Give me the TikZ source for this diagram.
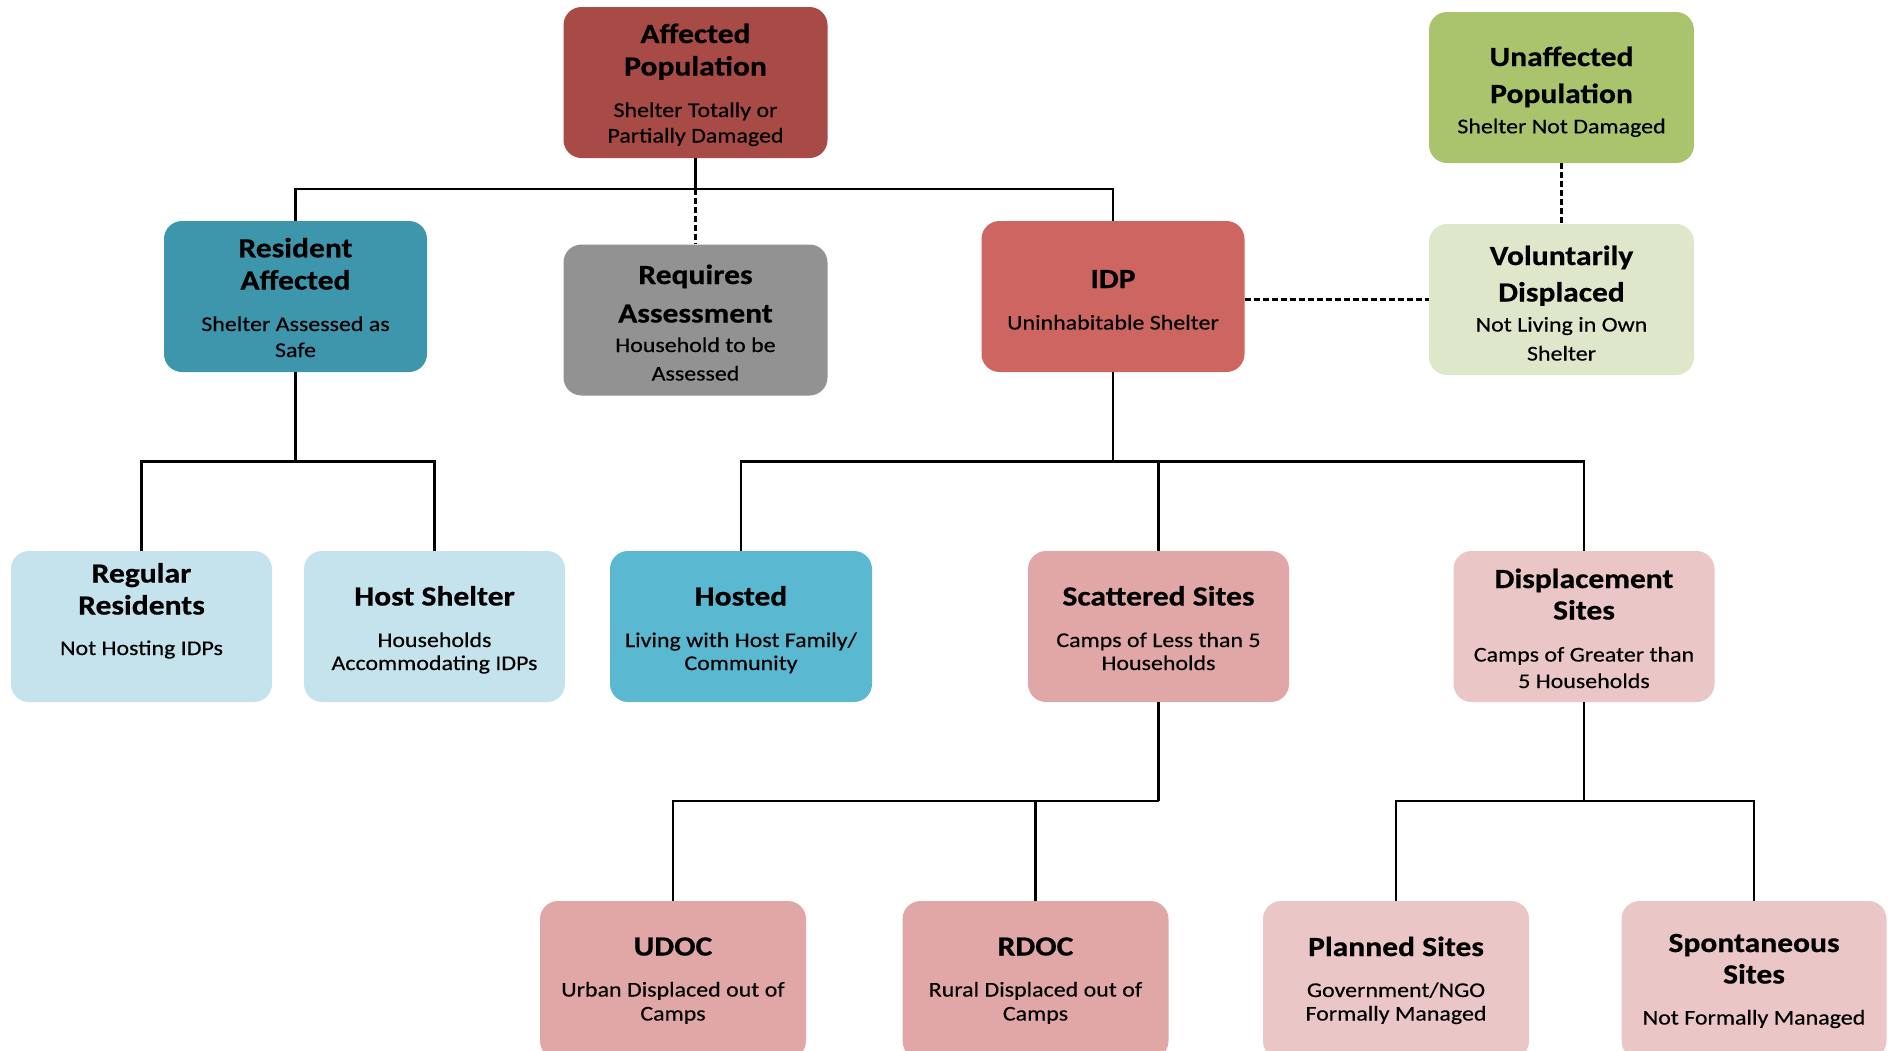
\documentclass[tikz,border=0pt]{standalone}
\usepackage{fontspec}
\setmainfont{Carlito}[FakeStretch=1.14, UprightFeatures={FakeBold=0.35}, BoldFeatures={FakeBold=0.6}]
\definecolor{cAff}{HTML}{A84A45}
\definecolor{cUnaff}{HTML}{A9C46C}
\definecolor{cRes}{HTML}{3D96AC}
\definecolor{cReq}{HTML}{929292}
\definecolor{cIdp}{HTML}{CD6661}
\definecolor{cVol}{HTML}{DEE7C9}
\definecolor{cLblue}{HTML}{C4E3EC}
\definecolor{cHosted}{HTML}{5BB8D1}
\definecolor{cPinkA}{HTML}{E1A7A6}
\definecolor{cPinkB}{HTML}{EBC6C6}
\begin{document}
\begin{tikzpicture}[x=1pt,y=-1pt,
  box/.style={rectangle, rounded corners=18pt, minimum width=263pt, minimum height=151pt, inner sep=0pt, draw=none},
  ttl/.style={anchor=base, inner sep=0pt, font=\bfseries\fontsize{27.7}{30}\selectfont},
  sub/.style={anchor=base, inner sep=0pt, font=\fontsize{21}{24}\selectfont},
  conn/.style={line width=2.3pt, black},
  dashline/.style={line width=2.1pt, black, dash pattern=on 6pt off 3pt}]
\path[use as bounding box] (0,0) rectangle (1888,1050);
\clip (0,0) rectangle (1888,1050);

% boxes
\node[box, fill=cAff, minimum width=264pt] (aff) at (695.5,82.5) {};
\node[box, fill=cUnaff, minimum width=265pt] (unaff) at (1561.5,87.5) {};
\node[box, fill=cRes] (res) at (295.5,296.5) {};
\node[box, fill=cReq, minimum width=264pt] (req) at (695.5,320) {};
\node[box, fill=cIdp] (idp) at (1113,296.5) {};
\node[box, fill=cVol, minimum width=265pt] (vol) at (1561.5,299.5) {};
\node[box, fill=cLblue, minimum width=261pt] (reg) at (141.5,626.5) {};
\node[box, fill=cLblue, minimum width=261pt] (host) at (434.5,626.5) {};
\node[box, fill=cHosted, minimum width=262pt] (hosted) at (741,626.5) {};
\node[box, fill=cPinkA, minimum width=261pt] (scat) at (1158.5,626.5) {};
\node[box, fill=cPinkB, minimum width=261pt] (disp) at (1584,626.5) {};
\node[box, fill=cPinkA, minimum width=266pt, minimum height=158pt] (udoc) at (673,980) {};
\node[box, fill=cPinkA, minimum width=266pt, minimum height=158pt] (rdoc) at (1035.5,980) {};
\node[box, fill=cPinkB, minimum width=266pt, minimum height=158pt] (plan) at (1396,980) {};
\node[box, fill=cPinkB, minimum width=265pt, minimum height=158pt] (spont) at (1754,980) {};

% junctions
\coordinate (j1) at (695.5,189);
\coordinate (j2) at (295.5,461.5);
\coordinate (j3) at (1113,461.5);
\coordinate (j4) at (1158.5,801);
\coordinate (j5) at (1584,801);

% connectors
\draw[conn] (aff.south) -- (j1);
\draw[conn] (res.north) |- (j1) -| (idp.north);
\draw[dashline] (j1) -- (req.north);
\draw[dashline] (unaff.south) -- (vol.north);
\draw[dashline] (vol.west -| idp.east) -- (vol.west);
\draw[conn] (res.south) -- (j2);
\draw[conn] (reg.north) |- (j2) -| (host.north);
\draw[conn] (idp.south) -- (j3);
\draw[conn] (hosted.north) |- (j3) -| (disp.north);
\draw[conn] (scat.north) -- (scat.north |- j3);
\draw[conn] (scat.south) -- (j4);
\draw[conn] (udoc.north) |- (j4);
\draw[conn] (rdoc.north) -- (rdoc.north |- j4);
\draw[conn] (disp.south) -- (j5);
\draw[conn] (plan.north) |- (j5) -| (spont.north);

% texts
\node[ttl] (aff-t1) at (695.5,43) {Affected};
\node[ttl] (aff-t2) at (695.5,75.5) {Population};
\node[sub] (aff-s1) at (695.5,117) {Shelter Totally or};
\node[sub] (aff-s2) at (695.5,142.5) {Partially Damaged};

\node[ttl] (unaff-t1) at (1561.5,66) {Unaffected};
\node[ttl] (unaff-t2) at (1561.5,103) {Population};
\node[sub] (unaff-s1) at (1561.5,133.3) {Shelter Not Damaged};

\node[ttl] (res-t1) at (295.5,257.3) {Resident};
\node[ttl] (res-t2) at (295.5,289.5) {Affected};
\node[sub] (res-s1) at (295.5,331) {Shelter Assessed as};
\node[sub] (res-s2) at (295.5,357) {Safe};

\node[ttl] (req-t1) at (695.5,284) {Requires};
\node[ttl] (req-t2) at (695.5,322.5) {Assessment};
\node[sub] (req-s1) at (695.5,352) {Household to be};
\node[sub] (req-s2) at (695.5,380.5) {Assessed};

\node[ttl] (idp-t1) at (1113,288) {IDP};
\node[sub] (idp-s1) at (1113,329.5) {Uninhabitable Shelter};

\node[ttl] (vol-t1) at (1561.5,265) {Voluntarily};
\node[ttl] (vol-t2) at (1561.5,301.5) {Displaced};
\node[sub] (vol-s1) at (1561.5,331.5) {Not Living in Own};
\node[sub] (vol-s2) at (1561.5,360.5) {Shelter};

\node[ttl] (reg-t1) at (141.5,582.5) {Regular};
\node[ttl] (reg-t2) at (141.5,614.5) {Residents};
\node[sub] (reg-s1) at (141.5,655) {Not Hosting IDPs};

\node[ttl] (host-t1) at (434.5,605.5) {Host Shelter};
\node[sub] (host-s1) at (434.5,647) {Households};
\node[sub] (host-s2) at (434.5,670) {Accommodating IDPs};

\node[ttl] (hosted-t1) at (741,605.5) {Hosted};
\node[sub] (hosted-s1) at (741,647) {Living with Host Family/};
\node[sub] (hosted-s2) at (741,670) {Community};

\node[ttl] (scat-t1) at (1158.5,605.5) {Scattered Sites};
\node[sub] (scat-s1) at (1158.5,647) {Camps of Less than 5};
\node[sub] (scat-s2) at (1158.5,670) {Households};

\node[ttl] (disp-t1) at (1584,588) {Displacement};
\node[ttl] (disp-t2) at (1584,619.5) {Sites};
\node[sub] (disp-s1) at (1584,661.5) {Camps of Greater than};
\node[sub] (disp-s2) at (1584,688) {5 Households};

\node[ttl] (udoc-t1) at (673,955.5) {UDOC};
\node[sub] (udoc-s1) at (673,996.5) {Urban Displaced out of};
\node[sub] (udoc-s2) at (673,1020.5) {Camps};

\node[ttl] (rdoc-t1) at (1035.5,955.5) {RDOC};
\node[sub] (rdoc-s1) at (1035.5,996.5) {Rural Displaced out of};
\node[sub] (rdoc-s2) at (1035.5,1020.5) {Camps};

\node[ttl] (plan-t1) at (1396,956) {Planned Sites};
\node[sub] (plan-s1) at (1396,997) {Government/NGO};
\node[sub] (plan-s2) at (1396,1020.5) {Formally Managed};

\node[ttl] (spont-t1) at (1754,952) {Spontaneous};
\node[ttl] (spont-t2) at (1754,983.5) {Sites};
\node[sub] (spont-s1) at (1754,1024.5) {Not Formally Managed};
\end{tikzpicture}
\end{document}
